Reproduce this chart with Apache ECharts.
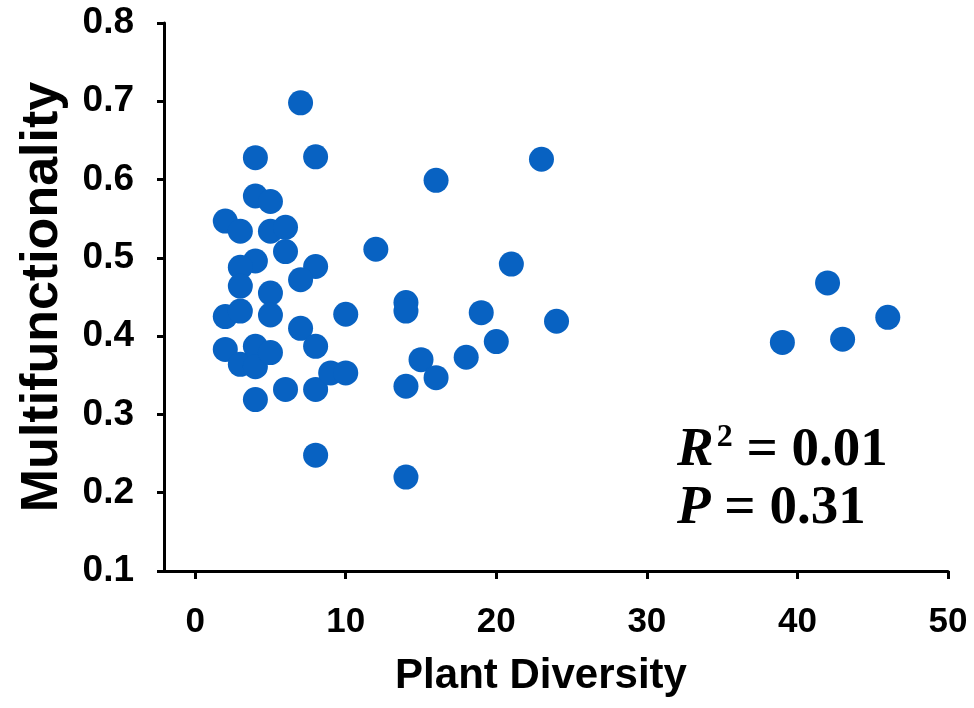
<!DOCTYPE html>
<html>
<head>
<meta charset="utf-8">
<script src="https://cdn.jsdelivr.net/npm/echarts@6/dist/echarts.min.js"></script>
<style>
html,body{margin:0;padding:0;background:#fff;}
#chart{width:974px;height:708px;}
</style>
</head>
<body>
<div id="chart"></div>
<script>
// Plant diversity (x) and multifunctionality (y)
const plantDiversity = [7, 4, 8, 23, 16, 4, 5, 2, 3, 5, 6, 6, 12, 4, 3, 8, 21, 3, 7,
  14, 14, 19, 24, 20, 15, 18, 16, 14, 14,
  2, 3, 5, 5, 7, 8, 10, 2, 3, 4, 4, 5, 6, 4, 8, 9, 10, 8,
  42, 46, 39, 43];
const multifunctionality = [0.698, 0.628, 0.629, 0.626, 0.599, 0.579, 0.572, 0.547, 0.534, 0.534, 0.539, 0.508, 0.511, 0.496, 0.488, 0.489, 0.492, 0.464, 0.472,
  0.443, 0.432, 0.430, 0.419, 0.393, 0.370, 0.373, 0.347, 0.336, 0.220,
  0.425, 0.432, 0.455, 0.427, 0.410, 0.387, 0.428, 0.383, 0.364, 0.387, 0.361, 0.379, 0.332, 0.319, 0.332, 0.353, 0.353, 0.248,
  0.468, 0.424, 0.392, 0.396];
const xTicks = [0, 10, 20, 30, 40, 50];
const xTitle = 'Plant Diversity';
const yTitle = 'Multifunctionality';
const statLine1 = {r: 'R', sup: '2', rest: ' = 0.01'};
const statLine2 = {p: 'P', rest: ' = 0.31'};

const points = plantDiversity.map((x, i) => [x, multifunctionality[i]]);
const font = "'Liberation Sans', Arial, sans-serif";
const serif = "'Liberation Serif', 'Times New Roman', serif";

const chart = echarts.init(document.getElementById('chart'), null, {renderer: 'canvas'});
chart.setOption({
  backgroundColor: '#fff',
  animation: false,
  grid: {left: 164, right: 26, top: 23, bottom: 137, containLabel: false},
  xAxis: {
    type: 'value', min: -2.07, max: 50,
    name: xTitle, nameLocation: 'middle', nameGap: 84,
    nameTextStyle: {fontFamily: font, fontWeight: 'bold', fontSize: 42, color: '#000', padding: [0, 30, 0, 0]},
    splitLine: {show: false},
    axisLine: {show: true, onZero: false, lineStyle: {color: '#000', width: 3}},
    axisTick: {show: true, customValues: xTicks, length: 8, lineStyle: {color: '#000', width: 3}},
    axisLabel: {customValues: xTicks, margin: 34, fontFamily: font, fontWeight: 'bold', fontSize: 35, color: '#000'}
  },
  yAxis: {
    type: 'value', min: 0.1, max: 0.8, interval: 0.1,
    name: yTitle, nameLocation: 'middle', nameGap: 95, nameRotate: 90,
    nameTextStyle: {fontFamily: font, fontWeight: 'bold', fontSize: 52, color: '#000'},
    splitLine: {show: false},
    axisLine: {show: true, onZero: false, lineStyle: {color: '#000', width: 3}},
    axisTick: {show: true, length: 7, lineStyle: {color: '#000', width: 3}},
    axisLabel: {margin: 30, fontFamily: font, fontWeight: 'bold', fontSize: 37, color: '#000',
      formatter: v => v.toFixed(1)}
  },
  series: [{
    type: 'scatter',
    data: points,
    symbol: 'circle',
    symbolSize: 25,
    itemStyle: {color: '#0862c2', opacity: 1},
    clip: false
  }],
  graphic: [
    {type: 'text', left: 677, top: 422, style: {
      text: '{r|' + statLine1.r + '}{s|' + statLine1.sup + '}{t|' + statLine1.rest + '}',
      rich: {
        r: {fontFamily: serif, fontStyle: 'italic', fontWeight: 'bold', fontSize: 55, fill: '#000', lineHeight: 58},
        s: {fontFamily: serif, fontWeight: 'bold', fontSize: 32, fill: '#000', verticalAlign: 'top', lineHeight: 58, padding: [0, 0, 20, 3]},
        t: {fontFamily: serif, fontWeight: 'bold', fontSize: 55, fill: '#000', lineHeight: 58}
      }
    }},
    {type: 'text', left: 677, top: 481, style: {
      text: '{p|' + statLine2.p + '}{t|' + statLine2.rest + '}',
      rich: {
        p: {fontFamily: serif, fontStyle: 'italic', fontWeight: 'bold', fontSize: 55, fill: '#000', lineHeight: 58},
        t: {fontFamily: serif, fontWeight: 'bold', fontSize: 55, fill: '#000', lineHeight: 58}
      }
    }}
  ]
});
</script>
</body>
</html>
